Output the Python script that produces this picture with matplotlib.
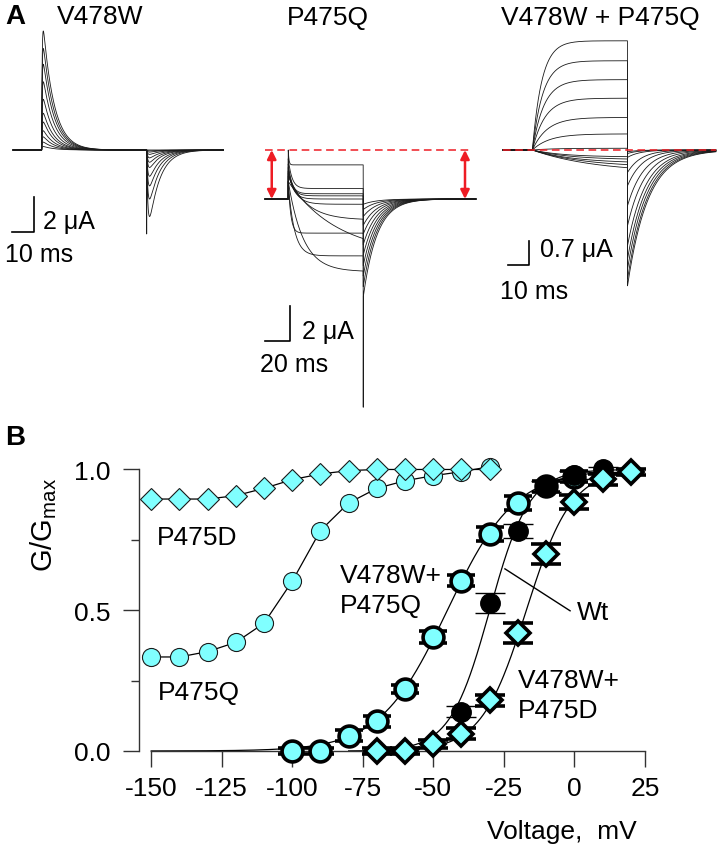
import numpy as np
import matplotlib
matplotlib.use("Agg")
import matplotlib.pyplot as plt

plt.rcParams['font.family'] = ['Liberation Sans', 'DejaVu Sans']
plt.rcParams['mathtext.fontset'] = 'custom'
plt.rcParams['mathtext.rm'] = 'Liberation Sans'
plt.rcParams['axes.unicode_minus'] = False

# ------------------------------------------------------------------ data
# panel A, V478W  (ms / uA)
v478w_times = [13.2, 61.6, 97.0]          # pulse on, pulse off, end
v478w_peak = [6.8, 5.8, 4.9, 3.9, 2.9, 2.1, 1.6, 1.1, 0.75, 0.45, 0.2]
v478w_tail = [-3.8, -2.8, -2.05, -1.5, -1.0, -0.7, -0.45, -0.25, -0.12, -0.05, 0.0]
v478w_tau = [5.0, 5.0]                    # decay of on / tail current
v478w_cap = -4.8                          # capacitive spike at pulse end

# panel A, P475Q
p475q_times = [18.6, 78.6, 168.8]
p475q_start = [2.8, 2.3, 2.0, 1.8, 1.6, 1.5, 1.3, 1.0, 1.0, 0.8, 1.0]
p475q_ss = [1.95, 0.6, 0.3, 0.18, 0.0, -0.3, -1.2, -1.95, -3.2, -3.25, -4.15]
p475q_tau = [0.6, 3.0, 3.0, 3.5, 4.0, 6.0, 15.0, 2.0, 40.0, 5.0, 12.0]
p475q_tail = [-0.3, -0.6, -1.0, -1.5, -2.0, -2.6, -3.2, -3.8, -4.4, -5.0, -5.6]
p475q_tau_tail = 11.0
p475q_cap = -11.9
p475q_ref = 2.8                           # red dashed level

# panel A, V478W + P475Q
dbl_times = [14.0, 59.3, 101.4]
dbl_ss = [3.12, 2.55, 2.01, 1.48, 0.93, 0.46, 0.05, -0.2, -0.28, -0.38, -0.5, -0.65]
dbl_tau = [4.5, 5, 5.5, 6, 7, 8, 10, 15, 18, 20, 25, 30]
dbl_tail = [-3.88, -3.69, -3.4, -3.11, -2.73, -2.16, -1.59, -1.02, -0.64, -0.21, -0.1, -0.05]
dbl_tau_tail = [9.7, 9.5, 9.3, 9.0, 8.7, 8.3, 7.8, 7.2, 6.5, 6.0, 5.5, 5.0]

# panel B  (mV / G/Gmax)
p475d_v = list(range(-150, -29, 10))
p475d_g = [0.895, 0.895, 0.895, 0.907, 0.933, 0.964, 0.984, 0.996, 1.0, 1.0, 1.0, 1.0, 1.0]
p475q_v = list(range(-150, -29, 10))
p475q_g = [0.334, 0.334, 0.353, 0.386, 0.454, 0.603, 0.783, 0.881, 0.933, 0.96, 0.978, 0.992, 1.01]

wq_v = list(range(-100, 1, 10))
wq_g = [0.0, 0.0, 0.055, 0.105, 0.22, 0.405, 0.605, 0.77, 0.88, 0.94, 0.975]
wq_err = [0.01, 0.01, 0.02, 0.02, 0.015, 0.02, 0.02, 0.025, 0.025, 0.02, 0.02]
wq_fit = [-45.0, 12.0, -150, 8]            # V1/2, k, from, to

wt_v = list(range(-40, 11, 10))
wt_g = [0.14, 0.525, 0.78, 0.94, 0.98, 1.0]
wt_err = [0.02, 0.035, 0.025, 0.02, 0.015, 0.01]
wt_fit = [-30.0, 7.0, -65, 15]

wd_v = list(range(-70, 21, 10))
wd_g = [0.0, 0.0, 0.025, 0.062, 0.18, 0.42, 0.70, 0.885, 0.965, 0.99]
wd_err = [0.01, 0.01, 0.015, 0.02, 0.02, 0.035, 0.035, 0.025, 0.02, 0.01]
wd_fit = [-17.0, 8.0, -80, 22]

W, H = 720, 853
cyan = '#80ffff'
red = '#ee1c24'
trace_col = '#1a1a1a'

fig = plt.figure(figsize=(W / 100, H / 100), dpi=100)


def px_axes(left, top, width, height):
    return fig.add_axes([left / W, 1 - (top + height) / H, width / W, height / H])


def trace_axes(left, top, width, height, x0, y0, px_ms, px_ua):
    ax = px_axes(left, top, width, height)
    ax.set_xlim((left - x0) / px_ms, (left + width - x0) / px_ms)
    ax.set_ylim((y0 - top - height) / px_ua, (y0 - top) / px_ua)
    ax.axis('off')
    return ax


def scale_bar(ax, t, i, dt, di, ylab, xlab, ylab_pos, xlab_pos):
    ax.plot([t - dt, t, t], [i, i, i + di], color='black', lw=1.2)
    ax.text(ylab_pos[0], ylab_pos[1], ylab, fontsize=18, ha='left', va='center')
    ax.text(xlab_pos[0], xlab_pos[1], xlab, fontsize=18, ha='left', va='center')


dt = 0.05

# ---- A : V478W
ax1 = trace_axes(0, 25, 240, 265, 13, 151, 2.17, 17.5)
t_on, t_off, t_end = v478w_times
t = np.arange(0, t_end, dt)
for k in range(len(v478w_peak)):
    cur = np.zeros_like(t)
    on = (t >= t_on) & (t < t_off)
    s = t[on] - t_on
    sh = np.exp(-s / v478w_tau[0]) * (1 - np.exp(-s / 0.25))
    cur[on] = v478w_peak[k] * sh / sh.max()
    off = t >= t_off
    s = t[off] - t_off
    sh = np.exp(-s / v478w_tau[1]) * (1 - np.exp(-s / 0.6))
    cur[off] = v478w_tail[k] * sh / sh.max()
    if k == 0:
        cur[np.argmax(off)] = v478w_cap
    ax1.plot(t, cur, color=trace_col, lw=0.6)
scale_bar(ax1, 9.5, -4.69, 10, 2, '2 μA', '10 ms', (13.8, -4.06), (-3.7, -5.94))

# ---- A : P475Q
ax2 = trace_axes(245, 130, 245, 290, 265, 200, 1.25, 17.5)
t_on, t_off, t_end = p475q_times
t = np.arange(0, t_end, dt)
for k in range(len(p475q_ss)):
    cur = np.zeros_like(t)
    on = (t >= t_on) & (t < t_off)
    s = t[on] - t_on
    cur[on] = p475q_ss[k] + (p475q_start[k] - p475q_ss[k]) * np.exp(-s / p475q_tau[k])
    off = t >= t_off
    s = t[off] - t_off
    cur[off] = p475q_tail[k] * np.exp(-s / p475q_tau_tail)
    if k == len(p475q_ss) - 1:
        cur[np.argmax(off)] = p475q_cap
    ax2.plot(t, cur, color=trace_col, lw=0.6)
ax2.plot([0, 165.6], [p475q_ref, p475q_ref], color=red, lw=1.1, ls=(0, (5, 3)), zorder=5)
for ta in [5.4, 160]:
    ax2.annotate('', xy=(ta, p475q_ref), xytext=(ta, 0),
                 arrowprops=dict(arrowstyle='<|-|>', color=red, lw=1.8,
                                 shrinkA=0, shrinkB=0, mutation_scale=13), zorder=6)
scale_bar(ax2, 20, -8.11, 20, 2, '2 μA', '20 ms', (29.6, -7.54), (-4, -9.43))

# ---- A : V478W + P475Q
ax3 = trace_axes(490, 25, 230, 290, 503, 151, 2.1, 35)
t_on, t_off, t_end = dbl_times
t = np.arange(0, t_end, dt)
for k in range(len(dbl_ss)):
    cur = np.zeros_like(t)
    on = (t >= t_on) & (t < t_off)
    s = t[on] - t_on
    cur[on] = dbl_ss[k] * (1 - np.exp(-s / dbl_tau[k]))
    off = t >= t_off
    s = t[off] - t_off
    cur[off] = dbl_tail[k] * np.exp(-s / dbl_tau_tail[k])
    ax3.plot(t, cur, color=trace_col, lw=0.6)
ax3.plot([0, t_end], [0, 0], color=red, lw=1.1, ls=(0, (5, 3)), zorder=5)
scale_bar(ax3, 12.4, -3.29, 10, 0.7, '0.7 μA', '10 ms', (17.6, -2.83), (-1.4, -4.03))

fig.text(5 / W, 1 - 24.5 / H, 'A', fontsize=20, fontweight='bold', ha='left', va='baseline')
fig.text(100 / W, 1 - 24.5 / H, 'V478W', fontsize=19, ha='center', va='baseline')
fig.text(327.5 / W, 1 - 24.5 / H, 'P475Q', fontsize=19, ha='center', va='baseline')
fig.text(600 / W, 1 - 24.5 / H, 'V478W + P475Q', fontsize=19, ha='center', va='baseline')
fig.text(5 / W, 1 - 445 / H, 'B', fontsize=20, fontweight='bold', ha='left', va='baseline')

# ------------------------------------------------------------------ panel B
axB = fig.add_axes([138.5 / W, 1 - 771.7 / H, (653.3 - 138.5) / W, (771.7 - 456.4) / H])
axB.set_xlim(-154.5, 28)
axB.set_ylim(-0.07, 1.05)


def boltz(fit):
    v = np.linspace(fit[2], fit[3], 300)
    return v, 1 / (1 + np.exp((fit[0] - v) / fit[1]))


for fit in [wq_fit, wt_fit, wd_fit]:
    v, g = boltz(fit)
    axB.plot(v, g, color='black', lw=0.9, zorder=2)

axB.plot(p475q_v, p475q_g, '-o', color='black', lw=0.9, ms=13, mfc=cyan, mec='#1a1a1a',
         mew=0.8, zorder=3)
axB.plot(p475d_v, p475d_g, '-D', color='black', lw=0.9, ms=11.5, mfc=cyan, mec='#1a1a1a',
         mew=0.8, zorder=4)
axB.errorbar(wq_v, wq_g, yerr=wq_err, fmt='o', ms=15, mfc=cyan, mec='black', mew=2.6,
             ecolor='black', elinewidth=1, capsize=10, capthick=0.9, zorder=5)
axB.errorbar(wt_v, wt_g, yerr=wt_err, fmt='o', ms=14, mfc='black', mec='black', mew=1,
             ecolor='black', elinewidth=1, capsize=11, capthick=0.9, zorder=6)
axB.errorbar(wd_v, wd_g, yerr=wd_err, fmt='D', ms=12, mfc=cyan, mec='black', mew=2.6,
             ecolor='black', elinewidth=1, capsize=11, capthick=0.9, zorder=7)

axB.plot([-24.6, -1.5], [0.647, 0.498], color='black', lw=1.0)
axB.text(1.0, 0.494, 'Wt', fontsize=19, ha='left', va='center')
axB.text(-148, 0.76, 'P475D', fontsize=19, ha='left', va='center')
axB.text(-147.6, 0.21, 'P475Q', fontsize=19, ha='left', va='center')
axB.text(-83, 0.573, 'V478W+\nP475Q', fontsize=19, ha='left', va='center', linespacing=1.3)
axB.text(-20, 0.2, 'V478W+\nP475D', fontsize=19, ha='left', va='center', linespacing=1.3)

for side in ['top', 'right']:
    axB.spines[side].set_visible(False)
axB.spines['left'].set_bounds(0, 1)
axB.spines['bottom'].set_position(('data', 0))
axB.spines['bottom'].set_bounds(-150, 25)
for side in ['left', 'bottom']:
    axB.spines[side].set_color('#333333')
    axB.spines[side].set_linewidth(1.0)
axB.set_xticks(range(-150, 26, 25))
axB.set_yticks([0, 0.5, 1.0])
axB.set_yticklabels(['0.0', '0.5', '1.0'])
axB.set_yticks([0.25, 0.75], minor=True)
axB.tick_params(axis='both', which='major', direction='out', length=11.3, width=1,
                color='#333333', labelsize=19)
axB.tick_params(axis='y', which='minor', direction='out', length=5.5, width=1, color='#333333')
axB.tick_params(axis='y', pad=9)
axB.tick_params(axis='x', pad=7)

fig.text(44 / W, 1 - 525 / H, r'$\mathregular{G/G_{max}}$', fontsize=21, rotation=90,
         ha='center', va='center')
fig.text(637 / W, 1 - 839 / H, 'Voltage,  mV', fontsize=19, ha='right', va='baseline')

fig.savefig('out.png', dpi=100)
